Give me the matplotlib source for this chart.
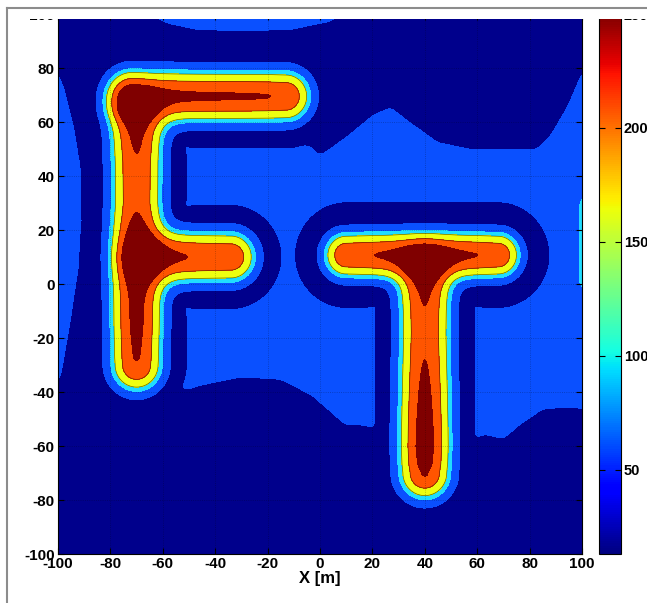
import numpy as np
import matplotlib
matplotlib.use("Agg")
import matplotlib.pyplot as plt
from matplotlib.patches import Rectangle
from matplotlib.lines import Line2D
from matplotlib.path import Path
from matplotlib.cm import ScalarMappable
from matplotlib.colors import Normalize

plt.rcParams['font.family'] = ['Liberation Sans', 'DejaVu Sans']
plt.rcParams['font.weight'] = 'bold'
plt.rcParams['axes.unicode_minus'] = False

# ---------------- data ----------------
# letter stroke centre lines (m) with the intensity along them
f_stem_x = [-70, -70, -70, -70, -70, -70, -70, -70, -70, -70]
f_stem_y = [-30, -27, -15, 0, 10, 22, 30, 45, 52, 62]
f_stem_amp = [212, 218, 228, 232, 238, 222, 206, 210, 220, 228]

f_top_x = [-72, -62, -45, -28, -20, -13]
f_top_y = [69.5, 69.5, 69.5, 69.5, 69.5, 69.5]
f_top_amp = [236, 226, 220, 218, 216, 210]

f_mid_x = [-66, -55, -45, -34]
f_mid_y = [10, 10, 10, 10]
f_mid_amp = [228, 218, 210, 205]

t_bar_x = [10, 20, 30, 40, 50, 60, 68]
t_bar_y = [10.7, 10.7, 10.7, 10.7, 10.7, 10.7, 10.7]
t_bar_amp = [205, 214, 222, 228, 222, 215, 205]

t_stem_x = [40, 40, 40, 40, 40, 40, 40, 40, 40, 40]
t_stem_y = [4, -3, -10, -18, -27, -40, -52, -60, -66, -70]
t_stem_amp = [235, 222, 212, 208, 214, 226, 236, 240, 232, 218]

# background level regions (outline vertices, level)
bg_level = 18
left_lens_x = [-101, -97, -93.5, -91, -90.5, -92, -95, -98, -101]
left_lens_y = [82, 72, 58, 42, 28, 5, -15, -32, -42]
left_lens_val = 55
mid_region_x = [-62, -10, 0, 10, 20, 27, 35, 45, 60, 82, 88, 94, 98, 101,
                101, 95, 85, 76, 70, 62, 55, 25, 19, 10, -3, -15, -30, -45, -62]
mid_region_y = [58, 58, 48, 55, 63, 66, 60, 53, 50, 50, 56, 66, 75, 82,
                -47, -46, -47, -53, -58, -56, -62, -62, -53, -53, -42, -36, -35, -38, -42]
mid_region_val = 55
top_strip_x = [-68, -58, -48, -30, -10, 5, 8]
top_strip_y = [101, 96, 94, 93, 94, 97, 101]
top_strip_val = 55
edge_lens_x = [101, 98.5, 98, 98.5, 101]
edge_lens_y = [38, 30, 15, 0, -5]
edge_lens_val = 95

contour_levels = [43, 84, 111, 161, 215]
fill_colors = ['#00008C', '#0A50FF', '#20DDFF', '#EEFF10', '#FF5500', '#800000']
x_ticks = [-100, -80, -60, -40, -20, 0, 20, 40, 60, 80, 100]
y_ticks = [-100, -80, -60, -40, -20, 0, 20, 40, 60, 80, 100]
cbar_ticks = [50, 100, 150, 200, 250]
cbar_range = (13, 250)

# ---------------- field ----------------
xs = np.linspace(-100, 100, 401)
X, Y = np.meshgrid(xs, xs)


def stroke_field(px, py, amp, width):
    best = np.zeros_like(X)
    dmin = np.full_like(X, np.inf)
    for i in range(len(px) - 1):
        x0, y0, x1, y1 = px[i], py[i], px[i + 1], py[i + 1]
        vx, vy = x1 - x0, y1 - y0
        L2 = vx * vx + vy * vy
        t = np.clip(((X - x0) * vx + (Y - y0) * vy) / L2, 0, 1)
        d2 = (X - x0 - t * vx) ** 2 + (Y - y0 - t * vy) ** 2
        a = amp[i] + (amp[i + 1] - amp[i]) * t
        best = np.maximum(best, a * np.exp(-d2 / (2 * width ** 2)))
        dmin = np.minimum(dmin, np.sqrt(d2))
    return best, dmin


strokes = [
    (f_stem_x, f_stem_y, f_stem_amp, 7.2),
    (f_top_x, f_top_y, f_top_amp, 7.0),
    (f_mid_x, f_mid_y, f_mid_amp, 7.0),
    (t_bar_x, t_bar_y, t_bar_amp, 6.3),
    (t_stem_x, t_stem_y, t_stem_amp, 7.2),
]
p = 1.5
acc = np.zeros_like(X)
dall = np.full_like(X, np.inf)
for sx, sy, sa, w in strokes:
    v, d = stroke_field(sx, sy, sa, w)
    acc += v ** p
    dall = np.minimum(dall, d)
letters = acc ** (1.0 / p)

pts = np.column_stack([X.ravel(), Y.ravel()])
bg = np.full(X.shape, float(bg_level))
for vx, vy, val in [(left_lens_x, left_lens_y, left_lens_val),
                    (mid_region_x, mid_region_y, mid_region_val),
                    (top_strip_x, top_strip_y, top_strip_val),
                    (edge_lens_x, edge_lens_y, edge_lens_val)]:
    inside = Path(np.column_stack([vx, vy])).contains_points(pts).reshape(X.shape)
    bg = np.where(inside, np.maximum(bg, val), bg)
# light smoothing
for _ in range(3):
    b = np.pad(bg, 2, mode='edge')
    bg = sum(b[i:i + X.shape[0], j:j + X.shape[1]] for i in range(5) for j in range(5)) / 25.0

tt = np.clip((dall - 15) / 7.0, 0, 1)
moat = tt * tt * (3 - 2 * tt)
Z = letters + bg * moat

# ---------------- figure ----------------
W, H = 647, 603
fig = plt.figure(figsize=(W / 100, H / 100), dpi=100)
ax = fig.add_axes([58 / W, 49 / H, 524 / W, 540 / H])

ax.contourf(X, Y, Z, levels=[-1e3] + contour_levels + [1e4], colors=fill_colors)
ax.contour(X, Y, Z, levels=contour_levels[2:4], colors='k', linewidths=0.5, alpha=0.6)

ax.set_xlim(-100, 100)
ax.set_ylim(-100, 100)
ax.set_xticks(x_ticks)
ax.set_yticks(y_ticks)
ax.set_xticklabels([str(v) for v in x_ticks])
ax.set_yticklabels([str(v) for v in y_ticks])
ax.tick_params(direction='in', length=4, top=True, right=True, labelsize=11, pad=2.5)
ax.grid(True, linestyle=':', color='k', linewidth=0.6, alpha=0.3)
for sp in ax.spines.values():
    sp.set_linewidth(0.8)
ax.set_xlabel('X [m]', fontsize=12, fontweight='bold', labelpad=0)
ax.set_ylabel('Y [m]', fontsize=12, fontweight='bold')
ax.yaxis.set_label_coords(-0.083, 0.5)

cax = fig.add_axes([599 / W, 49 / H, 22 / W, 540 / H])
sm = ScalarMappable(norm=Normalize(*cbar_range), cmap='jet')
cb = fig.colorbar(sm, cax=cax, ticks=cbar_ticks)
cb.outline.set_linewidth(0.8)
cax.tick_params(direction='in', length=4, left=True, right=True, labelsize=10.5, pad=2)
for lab in cax.get_yticklabels():
    lab.set_fontweight('bold')

# screenshot framing
fig.add_artist(Rectangle((0, (H - 19) / H), 1, 19 / H, transform=fig.transFigure,
                         facecolor='white', edgecolor='none', zorder=10))
fig.add_artist(Rectangle((0, 0), 16 / W, 1, transform=fig.transFigure,
                         facecolor='white', edgecolor='none', zorder=10))
fig.add_artist(Line2D([7 / W, 1], [(H - 8) / H, (H - 8) / H], transform=fig.transFigure,
                      color='#8c8c8c', linewidth=1.5, zorder=11))
fig.add_artist(Line2D([7 / W, 7 / W], [0, (H - 8) / H], transform=fig.transFigure,
                      color='#8c8c8c', linewidth=1.5, zorder=11))

fig.savefig('out.png', dpi=100)
